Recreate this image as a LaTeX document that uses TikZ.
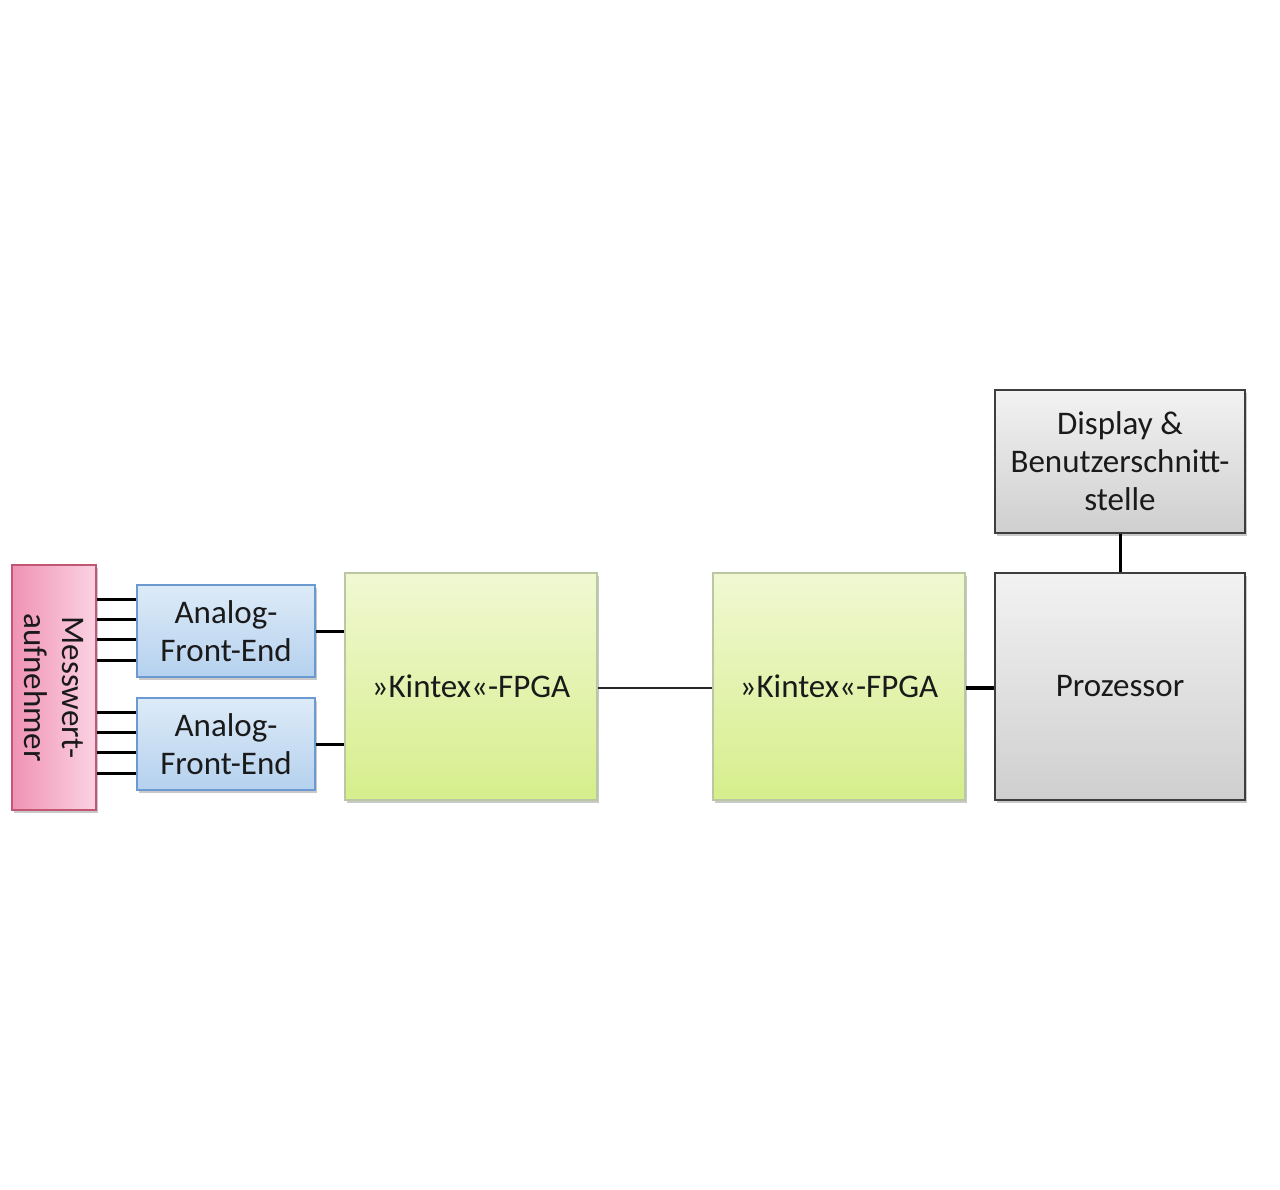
\documentclass[tikz,border=0pt]{standalone}
\usepackage{fontspec}
\setmainfont{Carlito}
\usetikzlibrary{shadows,calc}
\definecolor{pinkB}{HTML}{C25675}
\definecolor{pinkL}{HTML}{F092B4}
\definecolor{pinkR}{HTML}{FBD3E2}
\definecolor{blueB}{HTML}{6A9AD0}
\definecolor{blueT}{HTML}{DDEBF8}
\definecolor{blueBo}{HTML}{B5D1EE}
\definecolor{greenB}{HTML}{B9C7A2}
\definecolor{greenT}{HTML}{F1F8D2}
\definecolor{greenBo}{HTML}{D6EE8C}
\definecolor{grayB}{HTML}{3E3E3E}
\definecolor{grayT}{HTML}{F2F2F2}
\definecolor{grayBo}{HTML}{CFCFCF}
\definecolor{txt}{HTML}{1A1A1A}
\tikzset{
  blk/.style={draw, line width=1.5pt, inner sep=0pt, align=center, text=txt,
    font=\fontsize{33}{38}\selectfont,
    drop shadow={shadow xshift=2pt, shadow yshift=-3pt, opacity=0.35, fill=black!60}},
  pinkbox/.style={blk, draw=pinkB, left color=pinkL, right color=pinkR},
  bluebox/.style={blk, draw=blueB, top color=blueT, bottom color=blueBo},
  greenbox/.style={blk, draw=greenB, top color=greenT, bottom color=greenBo},
  graybox/.style={blk, draw=grayB, top color=grayT, bottom color=grayBo},
  wire/.style={draw=black, line width=3pt},
  thinwire/.style={draw=black!85, line width=2pt},
  thickwire/.style={draw=black, line width=4pt}
}
\begin{document}
\begin{tikzpicture}[x=1pt,y=-1pt]
\useasboundingbox (0,0) rectangle (1280,1190);
\fill[white] (0,0) rectangle (1280,1190);
% boxes (pixel coordinates, y downward)
\node[pinkbox, minimum width=84pt, minimum height=245pt] (mw) at (54,687.5) {};
\node[rotate=-90, align=center, text=txt, font=\fontsize{33}{38}\selectfont] (mwt) at (mw.center) {Messwert-\\aufnehmer};
\node[bluebox, minimum width=178pt, minimum height=92pt] (afe1) at (226,631) {Analog-\\Front-End};
\node[bluebox, minimum width=178pt, minimum height=92pt] (afe2) at (226,744) {Analog-\\Front-End};
\node[greenbox, minimum width=252pt, minimum height=227pt] (fpga1) at (471,686.5) {»Kintex«-FPGA};
\node[greenbox, minimum width=252pt, minimum height=227pt] (fpga2) at (839,686.5) {»Kintex«-FPGA};
\node[graybox, minimum width=250pt, minimum height=227pt] (proz) at (1120,686.5) {Prozessor};
\node[graybox, minimum width=250pt, minimum height=143pt] (disp) at (1120,461.5) {Display \&\\Benutzerschnitt-\\stelle};
% connectors
\foreach \yy in {599,619,639,660}{
  \draw[wire] (mw.east |- 0,\yy) -- (afe1.west |- 0,\yy);
}
\foreach \yy in {712,732,752,773}{
  \draw[wire] (mw.east |- 0,\yy) -- (afe2.west |- 0,\yy);
}
\draw[wire] (afe1.east) -- (afe1.east -| fpga1.west);
\draw[wire] (afe2.east) -- (afe2.east -| fpga1.west);
\draw[thinwire] (fpga1.east |- 0,688) -- (fpga2.west |- 0,688);
\draw[thickwire] (fpga2.east |- 0,688) -- (proz.west |- 0,688);
\draw[wire] (disp.south) -- (proz.north);
\end{tikzpicture}
\end{document}
